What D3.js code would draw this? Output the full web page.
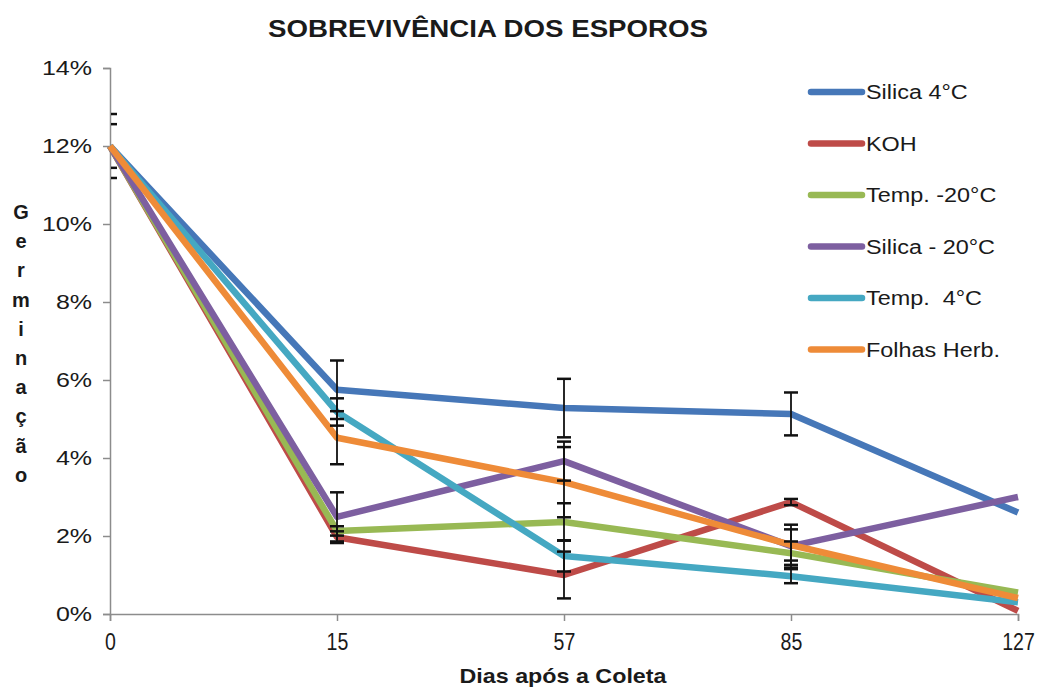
<!DOCTYPE html>
<html>
<head>
<meta charset="utf-8">
<script src="https://cdn.jsdelivr.net/npm/d3@7"></script>
<style>
  html, body { margin: 0; padding: 0; background: #fff; }
  svg { display: block; font-family: "Liberation Sans", Arial, sans-serif; }
  text { white-space: pre; }
</style>
</head>
<body>
<svg id="chart" width="1043" height="688"></svg>
<script>
// Collection day categories (x axis)
const days = ["0", "15", "57", "85", "127"];

// Germination (%) per treatment
const silica4 = [12, 5.75, 5.28, 5.13, 2.6];
const koh = [12, 1.97, 1.0, 2.87, 0.08];
const temp20 = [12, 2.13, 2.36, 1.56, 0.55];
const silica20 = [12, 2.49, 3.92, 1.74, 3.0];
const temp4 = [12, 5.18, 1.49, 0.97, 0.3];
const folhas = [12, 4.52, 3.38, 1.77, 0.41];

// Error bar half-widths (%)
const silica4Err = [0.82, 0.75, 0.75, 0.55, 0];
const kohErr = [0.56, 0.15, 0.6, 0.08, 0];
const temp20Err = [0, 0.12, 0.48, 0.3, 0];
const silica20Err = [0, 0.63, 0.5, 0.55, 0];
const temp4Err = [0, 0.35, 0.4, 0.18, 0];
const folhasErr = [0, 0.68, 0.9, 0.4, 0];

const seriesNames = ["Silica 4°C", "KOH", "Temp. -20°C", "Silica - 20°C", "Temp.  4°C", "Folhas Herb."];
const seriesColors = ["#4677B8", "#BE4B48", "#98B954", "#7D5FA0", "#45A8C2", "#EE8B38"];
const yTicks = [0, 2, 4, 6, 8, 10, 12, 14];

const seriesValues = [silica4, koh, temp20, silica20, temp4, folhas];
const seriesErrors = [silica4Err, kohErr, temp20Err, silica20Err, temp4Err, folhasErr];
const series = seriesNames.map((name, i) => ({
  name, color: seriesColors[i],
  points: days.map((d, j) => ({ day: d, v: seriesValues[i][j], e: seriesErrors[i][j] }))
}));

const svg = d3.select("#chart");
const plotLeft = 110, plotRight = 1018, plotTop = 68, plotBottom = 614;

const x = d3.scalePoint().domain(days).range([plotLeft, plotRight]);
const y = d3.scaleLinear().domain([0, 14]).range([plotBottom, plotTop]);

const axisColor = "#8c8c8c";
const textColor = "#1a1a1a";

// Widen a text element horizontally by a factor
function stretch(sel, k) {
  sel.each(function () {
    const len = this.getComputedTextLength();
    d3.select(this).attr("textLength", len * k).attr("lengthAdjust", "spacingAndGlyphs");
  });
}

// Title
svg.append("text")
  .attr("x", 488).attr("y", 37)
  .attr("text-anchor", "middle")
  .attr("font-size", 24).attr("font-weight", "bold")
  .attr("fill", textColor)
  .attr("textLength", 440).attr("lengthAdjust", "spacingAndGlyphs")
  .text("SOBREVIVÊNCIA DOS ESPOROS");

// Y axis
const yAxis = svg.append("g")
  .attr("transform", `translate(${plotLeft},0)`)
  .call(d3.axisLeft(y).tickValues(yTicks).tickSize(7).tickPadding(11).tickFormat(d => d + "%"));
yAxis.select(".domain").attr("stroke", axisColor).attr("stroke-width", 1.5);
yAxis.selectAll(".tick line").attr("stroke", axisColor).attr("stroke-width", 1.5);
yAxis.selectAll(".tick text")
  .attr("font-size", 20).attr("fill", textColor)
  .attr("font-family", "'Liberation Sans', Arial, sans-serif")
  .call(stretch, 1.25);

// X axis
const xAxis = svg.append("g")
  .attr("transform", `translate(0,${plotBottom})`)
  .call(d3.axisBottom(x).tickSize(7).tickPadding(13));
xAxis.select(".domain").attr("stroke", axisColor).attr("stroke-width", 1.5);
xAxis.selectAll(".tick line").attr("stroke", axisColor).attr("stroke-width", 1.5);
xAxis.selectAll(".tick text")
  .attr("font-size", 23).attr("fill", textColor)
  .attr("font-family", "'Liberation Sans', Arial, sans-serif")
  .call(stretch, 0.85);

// Axis titles
svg.append("text")
  .attr("x", 563).attr("y", 683)
  .attr("text-anchor", "middle")
  .attr("font-size", 21).attr("font-weight", "bold")
  .attr("fill", textColor)
  .attr("textLength", 207).attr("lengthAdjust", "spacingAndGlyphs")
  .text("Dias após a Coleta");

const yTitle = Array.from("Germinação");
svg.append("g").selectAll("text")
  .data(yTitle)
  .join("text")
  .attr("x", 21)
  .attr("y", (d, i) => 219 + i * 29.2)
  .attr("text-anchor", "middle")
  .attr("font-size", 20).attr("font-weight", "bold")
  .attr("fill", textColor)
  .text(d => d);

// Clip region for the error bars (plot area)
svg.append("defs").append("clipPath").attr("id", "plot-clip")
  .append("rect").attr("x", plotLeft + 1).attr("y", 0)
  .attr("width", plotRight - plotLeft + 10).attr("height", plotBottom + 2);

// Lines
const line = d3.line().x(d => x(d.day)).y(d => y(d.v));
const plot = svg.append("g");
plot.selectAll("path.series")
  .data(series)
  .join("path")
  .attr("class", "series")
  .attr("d", d => line(d.points))
  .attr("fill", "none")
  .attr("stroke", d => d.color)
  .attr("stroke-width", 6.5)
  .attr("stroke-linejoin", "round");

// Error bars
const errG = svg.append("g").attr("clip-path", "url(#plot-clip)");
const errData = series.flatMap(s => s.points.filter(p => p.e > 0));
const capHalf = 7;
errData.forEach(p => {
  const cx = x(p.day), y1 = y(p.v + p.e), y2 = y(p.v - p.e);
  errG.append("line").attr("x1", cx).attr("x2", cx).attr("y1", y1).attr("y2", y2)
    .attr("stroke", "#111").attr("stroke-width", 1.8);
  [y1, y2].forEach(yy => {
    errG.append("line").attr("x1", cx - capHalf).attr("x2", cx + capHalf).attr("y1", yy).attr("y2", yy)
      .attr("stroke", "#111").attr("stroke-width", 2.5);
  });
});

// Legend
const legend = svg.append("g");
const legY = i => 92 + i * 51.5;
const items = legend.selectAll("g").data(series).join("g")
  .attr("transform", (d, i) => `translate(0,${legY(i)})`);
items.append("line")
  .attr("x1", 811).attr("x2", 862).attr("y1", 0).attr("y2", 0)
  .attr("stroke", d => d.color).attr("stroke-width", 6.5).attr("stroke-linecap", "round");
items.append("text")
  .attr("x", 866).attr("y", 7)
  .attr("font-size", 20).attr("fill", textColor)
  .text(d => d.name)
  .call(stretch, 1.17);
</script>
</body>
</html>
